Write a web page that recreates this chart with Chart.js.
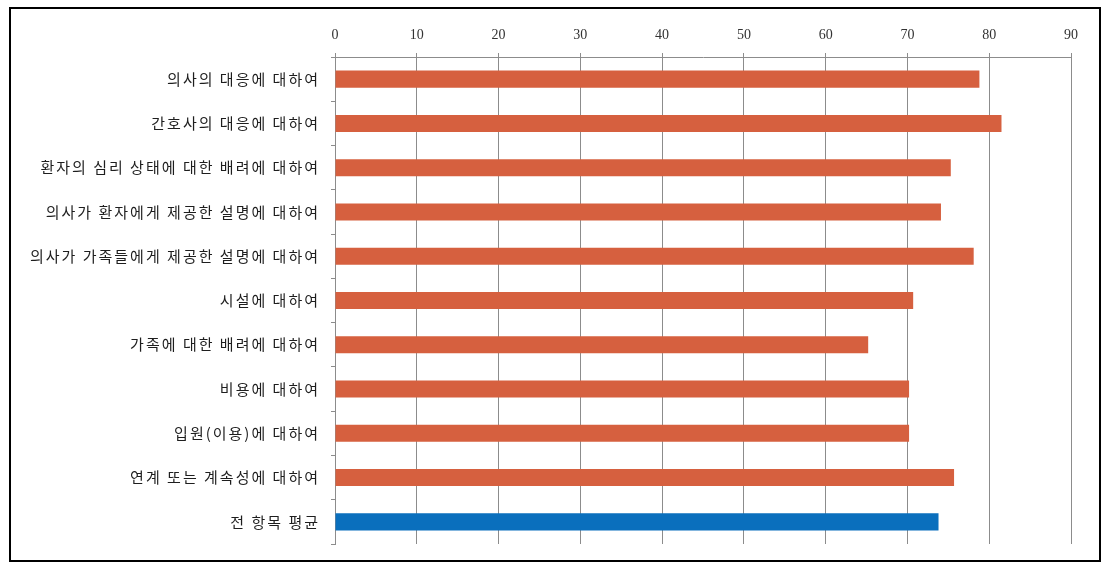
<!DOCTYPE html>
<html>
<head>
<meta charset="utf-8">
<script src="https://cdn.jsdelivr.net/npm/chart.js@4"></script>
<style>
  html, body { margin: 0; padding: 0; background: #fff; }
  #wrap { position: relative; width: 1111px; height: 569px; }
  #frame { position: absolute; left: 9px; top: 7px; width: 1088px; height: 551px; border: 2px solid #000; pointer-events: none; }
  canvas { position: absolute; left: 0; top: 0; }
</style>
</head>
<body>
<div id="wrap">
  <canvas id="chart" width="1111" height="569"></canvas>
  <div id="frame"></div>
</div>
<script>
// 항목 이름
const categories = [
    '의사의 대응에 대하여',
    '간호사의 대응에 대하여',
    '환자의 심리 상태에 대한 배려에 대하여',
    '의사가 환자에게 제공한 설명에 대하여',
    '의사가 가족들에게 제공한 설명에 대하여',
    '시설에 대하여',
    '가족에 대한 배려에 대하여',
    '비용에 대하여',
    '입원(이용)에 대하여',
    '연계 또는 계속성에 대하여',
    '전 항목 평균'
];

// 점수
const scores = [78.8, 81.5, 75.3, 74.1, 78.1, 70.7, 65.2, 70.2, 70.2, 75.7, 73.8];

// x축 눈금
const xTicks = [0, 10, 20, 30, 40, 50, 60, 70, 80, 90];

const orange = '#d6603f';
const blue = '#0a6fbd';
const gridColor = '#8c8c8c';

// 마지막 항목(평균)만 파란색
const barColors = categories.map((c, i) => i === categories.length - 1 ? blue : orange);

// 한글 라벨만 글자 간격 넓히기 (원본 폰트가 넓음), 숫자 눈금은 나중에 그려짐
const spacingPlugin = {
    id: 'spacing',
    beforeDraw(chart) {
        chart.ctx.letterSpacing = '2px';
    },
    beforeDatasetsDraw(chart) {
        chart.ctx.letterSpacing = '0px';
    }
};

new Chart(document.getElementById('chart'), {
    type: 'bar',
    data: {
        labels: categories,
        datasets: [{
            data: scores,
            backgroundColor: barColors,
            borderWidth: 0,
            barPercentage: 0.385,
            categoryPercentage: 1
        }]
    },
    options: {
        indexAxis: 'y',
        responsive: false,
        animation: false,
        layout: { padding: { left: 0, right: 40, top: 0, bottom: 25 } },
        plugins: {
            legend: { display: false },
            tooltip: { enabled: false }
        },
        scales: {
            x: {
                position: 'top',
                min: xTicks[0],
                max: xTicks[xTicks.length - 1],
                afterFit: s => { s.height = 57; },
                afterBuildTicks: s => { s.ticks = xTicks.map(v => ({ value: v })); },
                grid: { color: gridColor, lineWidth: 1, tickLength: 4 },
                border: { color: gridColor, width: 1 },
                ticks: {
                    z: 1,
                    padding: 9,
                    color: '#333',
                    font: { family: '"Liberation Serif", serif', size: 14 }
                }
            },
            y: {
                afterFit: s => { s.width = 335; },
                grid: { drawOnChartArea: false, color: gridColor, tickLength: 4, offset: true },
                border: { color: gridColor, width: 1 },
                ticks: {
                    padding: 11,
                    color: '#1e1e1e',
                    font: { family: '"Noto Sans CJK KR", sans-serif', size: 15 }
                }
            }
        }
    },
    plugins: [spacingPlugin]
});
</script>
</body>
</html>
